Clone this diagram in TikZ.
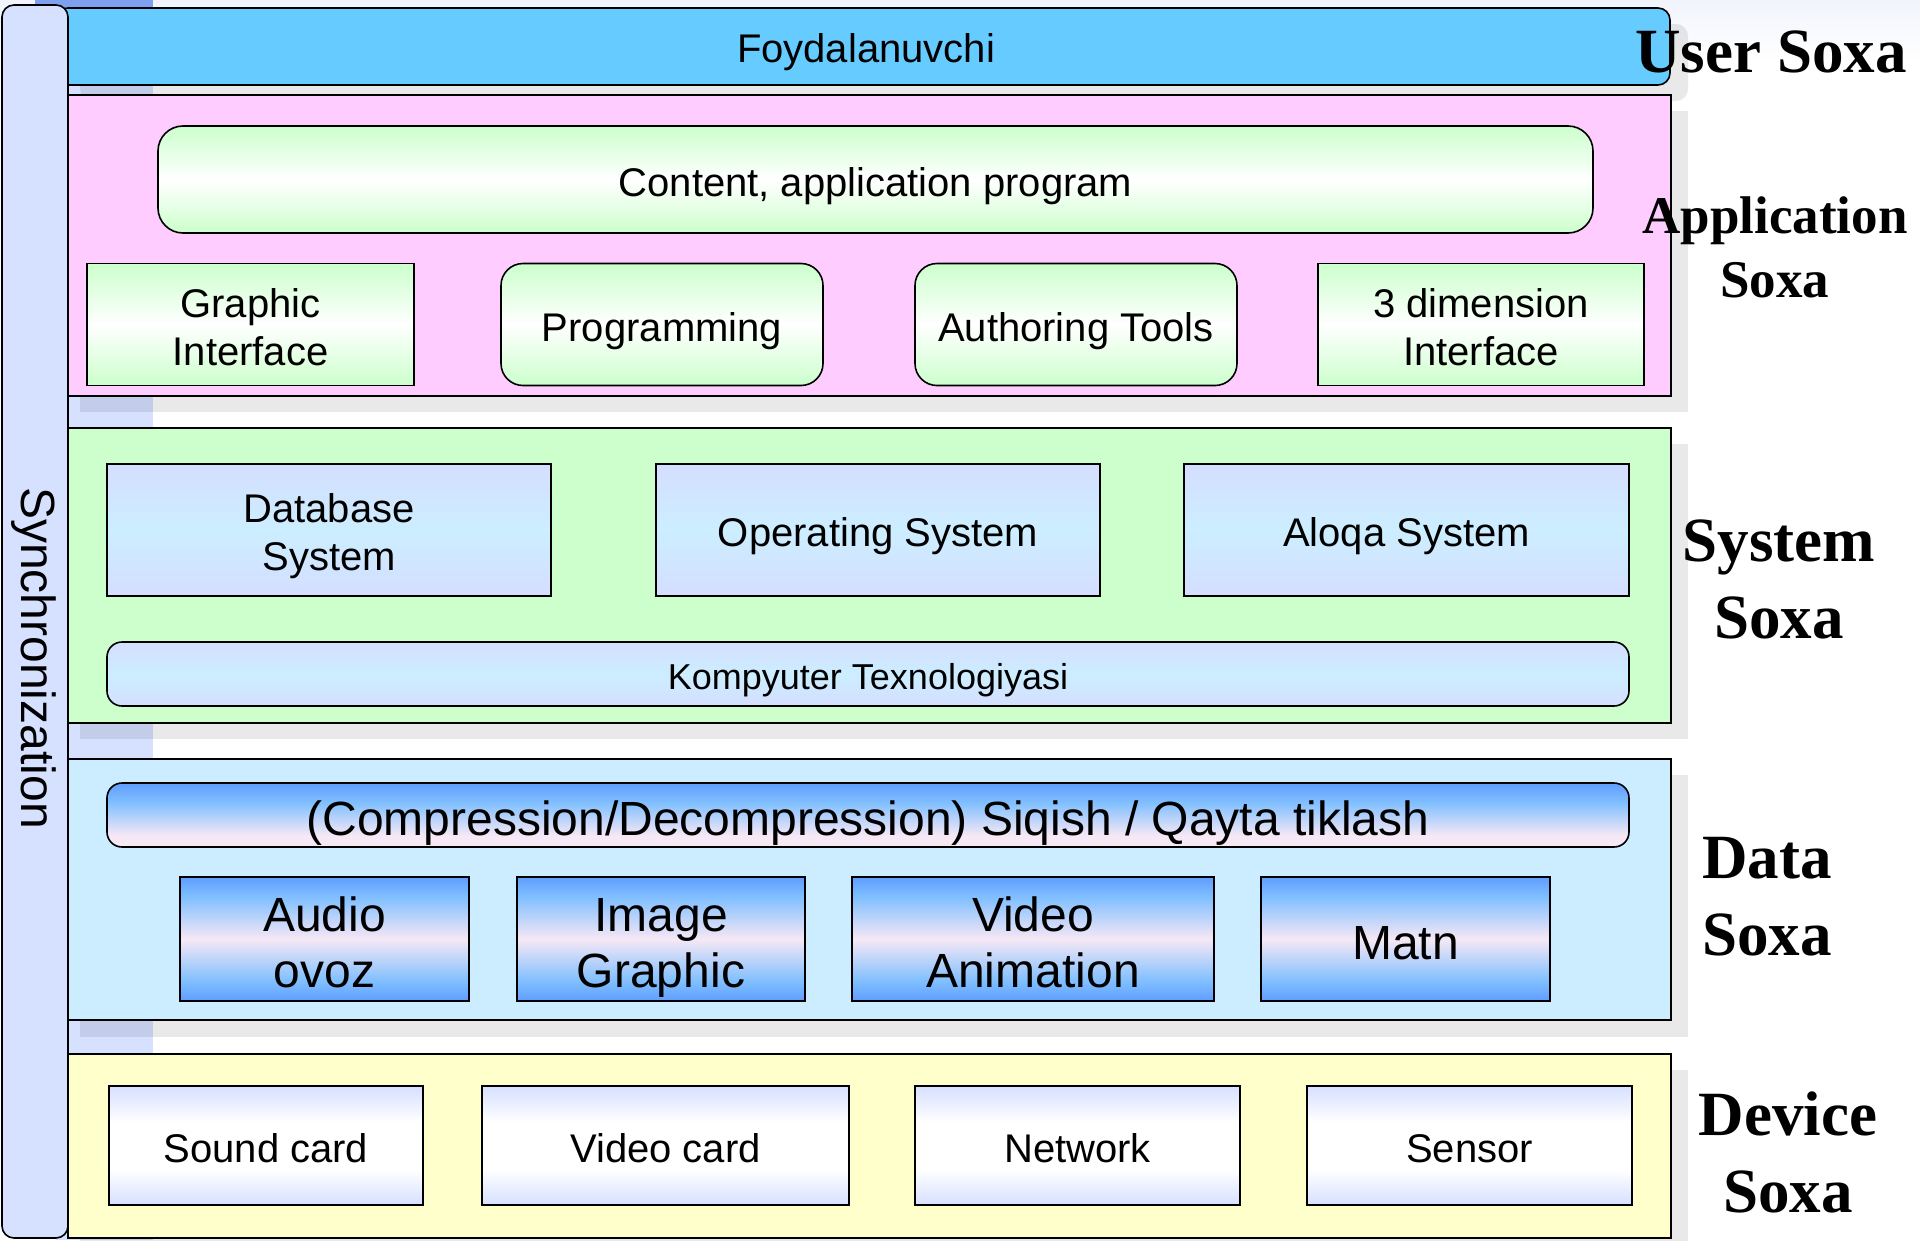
\documentclass[tikz,border=0pt]{standalone}
\usepackage{fontspec}
\setmainfont{Liberation Sans}
\newfontfamily\lblfont{Liberation Serif}
\newcommand\lnstrut{\rule[-0.212em]{0pt}{1.117em}}
\newcommand\lnstrutA{\rule[-0.212em]{0pt}{1.267em}}
\newcommand\firststrut{\rule{0pt}{1.05em}}
\newcommand\laststrut{\rule[-0.212em]{0pt}{0.212em}}
\definecolor{userc}{HTML}{66CCFF}
\definecolor{appc}{HTML}{FFCCFF}
\definecolor{sysc}{HTML}{CCFFCC}
\definecolor{datac}{HTML}{CCECFF}
\definecolor{devc}{HTML}{FFFFCC}
\definecolor{syncc}{HTML}{D6E0FF}
\definecolor{topbg}{HTML}{F1F4FC}
\definecolor{patchc}{HTML}{7F9FEF}
\definecolor{appg}{HTML}{CCFFCC}
\definecolor{slav}{HTML}{D4DEFF}
\definecolor{scyan}{HTML}{CCEEFF}
\definecolor{dblue}{HTML}{5F9DFF}
\definecolor{dlight}{HTML}{80BFFF}
\definecolor{dpink}{HTML}{F6E8F5}
\definecolor{dlav}{HTML}{D6E0FF}
\pgfdeclareverticalshading{greenshade}{100bp}{color(0bp)=(appg); color(25bp)=(appg); color(50bp)=(white); color(75bp)=(appg); color(100bp)=(appg)}
\pgfdeclareverticalshading{sysshade}{100bp}{color(0bp)=(slav); color(25bp)=(slav); color(50bp)=(scyan); color(75bp)=(slav); color(100bp)=(slav)}
\pgfdeclareverticalshading{datashade}{100bp}{color(0bp)=(dblue); color(25bp)=(dblue); color(33bp)=(dlight); color(50bp)=(dpink); color(67bp)=(dlight); color(75bp)=(dblue); color(100bp)=(dblue)}
\pgfdeclareverticalshading{compshade}{100bp}{color(0bp)=(dpink); color(25bp)=(dpink); color(34bp)=(dpink); color(60bp)=(dlight); color(75bp)=(dblue); color(100bp)=(dblue)}
\pgfdeclareverticalshading{devshade}{100bp}{color(0bp)=(dlav); color(25bp)=(dlav); color(40bp)=(white); color(60bp)=(white); color(75bp)=(dlav); color(100bp)=(dlav)}
\begin{document}
\begin{tikzpicture}[x=1pt,y=-1pt,
  every node/.style={inner sep=0pt, outer sep=0pt},
  layer/.style={draw=black, line width=1.6pt, rectangle},
  shadowbox/.style={fill=black, opacity=0.085},
  box/.style={draw=black, line width=1.6pt, rectangle, align=center},
  appbox/.style={box, shading=greenshade},
  sysbox/.style={box, shading=sysshade},
  databox/.style={box, shading=datashade},
  devbox/.style={box, shading=devshade},
  struts/.style={execute at begin node=\lnstrutA, execute at end node=\lnstrut},
  twolines/.style={execute at begin node={}, execute at end node={}},
  txtA/.style={font=\fontsize{40}{48}\selectfont, struts},
  txtB/.style={font=\fontsize{48}{56}\selectfont, struts},
  txtC/.style={font=\fontsize{36}{43}\selectfont, struts},
  lbl/.style={font=\lblfont\bfseries\fontsize{63}{77}\selectfont, anchor=base},
  lblsmall/.style={font=\lblfont\bfseries\fontsize{53}{64}\selectfont, anchor=base}
]
\useasboundingbox (0,0) rectangle (1920,1240);
\fill[white] (0,0) rectangle (1920,1240);
\shade[top color=topbg, bottom color=white] (0,0) rectangle (1920,60);
% left lavender strip and top patch
\fill[syncc] (56,8) rectangle (153,1240);
\fill[patchc] (35,0) rectangle (153,8);
% shadows
\fill[shadowbox, rounded corners=12pt] (80,24) rectangle (1688,101);
\fill[shadowbox] (80,111) rectangle (1688,412);
\fill[shadowbox] (80,444) rectangle (1688,739);
\fill[shadowbox] (80,775) rectangle (1688,1037);
\fill[shadowbox] (80,1070) rectangle (1688,1260);
% layers
\node[layer, fill=userc, rounded corners=12pt, minimum width=1614pt, minimum height=77pt] (user) at (863,46.5) {};
\node[font=\fontsize{40}{48}\selectfont, execute at begin node=\lnstrut, execute at end node=\lnstrut] (usertxt) at (866,49) {Foydalanuvchi};
\node[layer, fill=appc, minimum width=1603pt, minimum height=301pt] (app) at (869.5,245.5) {};
\node[layer, fill=sysc, minimum width=1603pt, minimum height=295pt] (sys) at (869.5,575.5) {};
\node[layer, fill=datac, minimum width=1603pt, minimum height=261pt] (data) at (869.5,889.5) {};
\node[layer, fill=devc, minimum width=1603pt, minimum height=184pt] (dev) at (869.5,1146) {};
% application layer
\node[appbox, txtA, rounded corners=25pt, minimum width=1435pt, minimum height=107pt] (content) at (875.5,179.5) {Content, application program};
\node[appbox, txtA, twolines, minimum width=327pt, minimum height=122pt] (graphic) at (250.5,324.5) {\firststrut Graphic\\Interface\laststrut};
\node[appbox, txtA, rounded corners=22pt, minimum width=322pt, minimum height=122pt] (prog) at (662,324.5) {Programming};
\node[appbox, txtA, rounded corners=22pt, minimum width=322pt, minimum height=122pt] (auth) at (1076,324.5) {Authoring Tools};
\node[appbox, txtA, twolines, minimum width=326pt, minimum height=122pt] (threed) at (1481,324.5) {\firststrut 3 dimension\\Interface\laststrut};
% system layer
\node[sysbox, txtA, twolines, minimum width=444pt, minimum height=132pt] (db) at (329,530) {\firststrut Database\\System\laststrut};
\node[sysbox, txtA, minimum width=444pt, minimum height=132pt] (os) at (878,530) {Operating System};
\node[sysbox, txtA, minimum width=445pt, minimum height=132pt] (aloqa) at (1406.5,530) {Aloqa System};
\node[sysbox, txtC, rounded corners=15pt, minimum width=1522pt, minimum height=64pt] (komp) at (868,674) {Kompyuter Texnologiyasi};
% data layer
\node[box, shading=compshade, txtB, rounded corners=15pt, minimum width=1522pt, minimum height=64pt] (comp) at (868,815) {(Compression/Decompression) Siqish / Qayta tiklash};
\node[databox, txtB, twolines, minimum width=289pt, minimum height=124pt] (audio) at (324.5,939) {\firststrut Audio\\ovoz\laststrut};
\node[databox, txtB, twolines, minimum width=288pt, minimum height=124pt] (image) at (661,939) {\firststrut Image\\Graphic\laststrut};
\node[databox, txtB, twolines, minimum width=362pt, minimum height=124pt] (video) at (1033,939) {\firststrut Video\\Animation\laststrut};
\node[databox, txtB, minimum width=289pt, minimum height=124pt] (matn) at (1405.5,939) {Matn};
% device layer
\node[devbox, txtA, minimum width=314pt, minimum height=119pt] (sound) at (266,1145.5) {Sound card};
\node[devbox, txtA, minimum width=367pt, minimum height=119pt] (vcard) at (665.5,1145.5) {Video card};
\node[devbox, txtA, minimum width=325pt, minimum height=119pt] (net) at (1077.5,1145.5) {Network};
\node[devbox, txtA, minimum width=325pt, minimum height=119pt] (sensor) at (1469.5,1145.5) {Sensor};
% right labels
\node[lbl] (userlbl) at (1771,72) {User Soxa};
\node[lblsmall] (applbl1) at (1775,233) {Application};
\node[lblsmall] (applbl2) at (1775,297) {Soxa};
\node[lbl] (syslbl1) at (1779,561) {System};
\node[lbl] (syslbl2) at (1779,638) {Soxa};
\node[lbl] (datalbl1) at (1767,878) {Data};
\node[lbl] (datalbl2) at (1767,955) {Soxa};
\node[lbl] (devlbl1) at (1788,1135) {Device};
\node[lbl] (devlbl2) at (1788,1212) {Soxa};
% synchronization bar
\node[layer, fill=syncc, rounded corners=12pt, minimum width=66pt, minimum height=1233pt] (sync) at (35,621.5) {};
\node[font=\fontsize{48}{56}\selectfont, rotate=-90] (synctxt) at (34,658) {Synchronization};
\end{tikzpicture}
\end{document}
